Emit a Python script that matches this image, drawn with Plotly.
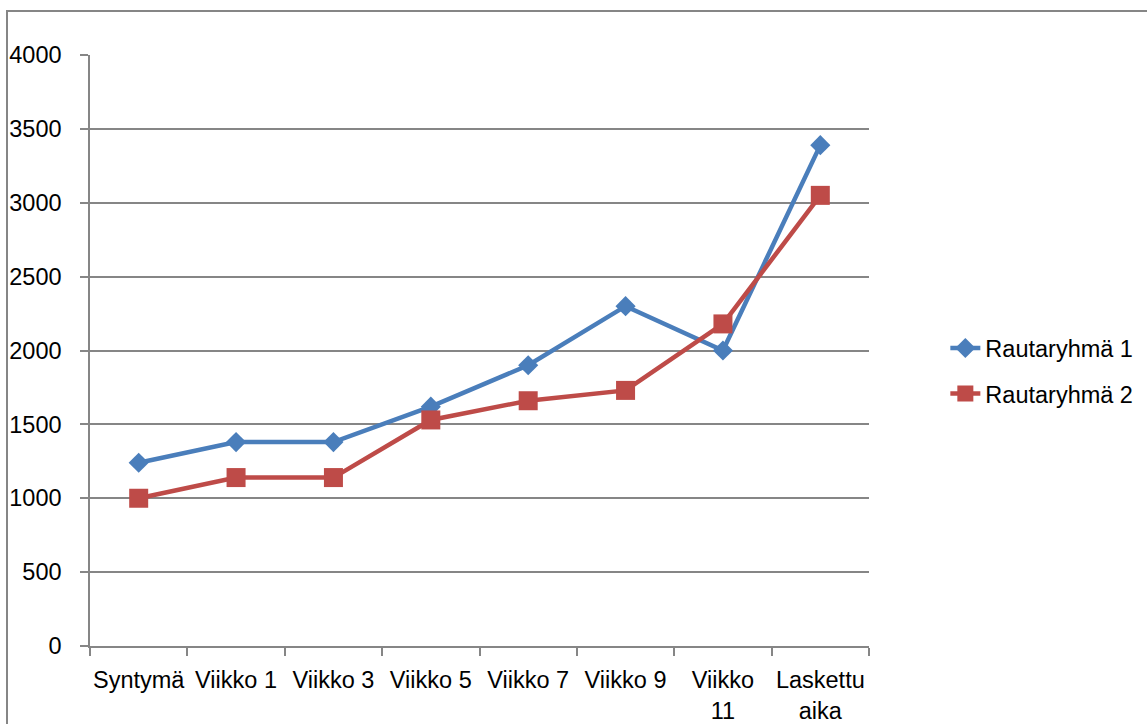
import plotly.graph_objects as go

categories = ["Syntymä", "Viikko 1", "Viikko 3", "Viikko 5", "Viikko 7", "Viikko 9", "Viikko<br>11", "Laskettu<br>aika"]
series1_name = "Rautaryhmä 1"
series1 = [1240, 1380, 1380, 1620, 1900, 2300, 2000, 3390]
series2_name = "Rautaryhmä 2"
series2 = [1000, 1140, 1140, 1530, 1660, 1730, 2180, 3050]
y_ticks = [0, 500, 1000, 1500, 2000, 2500, 3000, 3500, 4000]

FONT = "Liberation Sans"
GRAY = "#868686"
FS = 23.5

fig = go.Figure()
fig.add_trace(go.Scatter(
    x=categories, y=series1, name=series1_name, mode="lines+markers",
    line=dict(color="#4A7EBB", width=4.5), legendgroup="a",
    marker=dict(symbol="diamond", size=15.5, color="#4A7EBB"),
))
fig.add_trace(go.Scatter(
    x=categories, y=series2, name=series2_name, mode="lines+markers",
    line=dict(color="#BE4B48", width=4.5), legendgroup="b",
    marker=dict(symbol="square", size=19, color="#BE4B48"),
))

fig.update_layout(
    width=1147, height=724,
    margin=dict(l=90, r=278, t=55, b=78, autoexpand=False),
    paper_bgcolor="white", plot_bgcolor="white",
    font=dict(family=FONT, size=FS, color="black"),
    showlegend=True,
    legend=dict(x=1.098, y=0.465, xanchor="left", yanchor="middle",
                font=dict(family=FONT, size=FS, color="black"),
                tracegroupgap=12, itemwidth=30, bgcolor="rgba(0,0,0,0)"),
    xaxis=dict(
        type="category", tickson="boundaries", ticks="outside", ticklen=8,
        tickcolor=GRAY, tickwidth=1.5, showline=True, linecolor=GRAY, linewidth=1.5,
        showgrid=False, zeroline=False, tickangle=0, automargin=False,
        tickfont=dict(family=FONT, size=FS, color="black"),
        ticklabelstandoff=12,
        range=[-0.5, 7.5],
    ),
    yaxis=dict(
        range=[0, 4000], tickvals=y_ticks, ticks="outside", ticklen=8,
        tickcolor=GRAY, tickwidth=1.5, showline=True, linecolor=GRAY, linewidth=1.5,
        showgrid=True, gridcolor=GRAY, gridwidth=1.5, zeroline=False, automargin=False,
        tickfont=dict(family=FONT, size=FS, color="black"),
        ticklabelstandoff=14,
    ),
    shapes=[dict(type="rect", xref="paper", yref="paper",
                 x0=(7 - 90) / 779, x1=1.5, y0=-0.3, y1=(646 - 11) / 591,
                 line=dict(color=GRAY, width=2), fillcolor="rgba(0,0,0,0)", layer="below")],
)

fig.write_html("out.html")
